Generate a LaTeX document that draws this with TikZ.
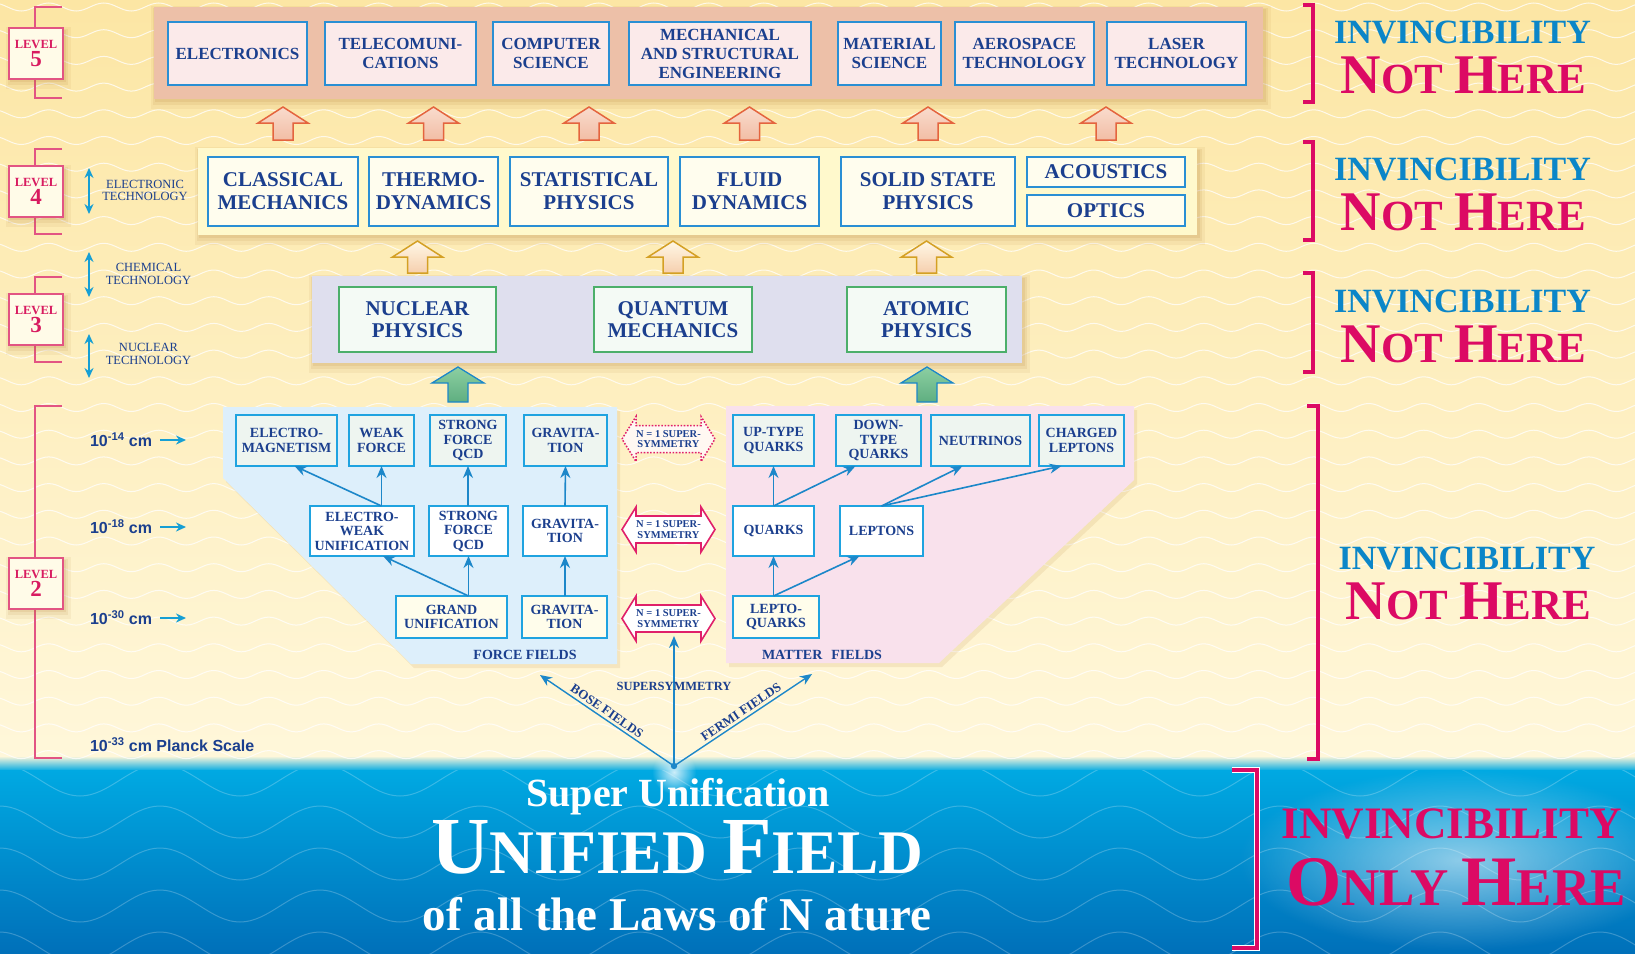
\documentclass[tikz,border=0pt]{standalone}
\usepackage{fontspec}
\setmainfont{Liberation Serif}
\newfontfamily\sansf{Liberation Sans}
\usetikzlibrary{arrows.meta,calc,fadings}
\tikzfading[name=softglow, inner color=transparent!0, outer color=transparent!100]
\definecolor{txtblue}{HTML}{1B3F8E}
\definecolor{boxline}{HTML}{2A8FD4}
\definecolor{cyanline}{HTML}{1FA3E0}
\definecolor{arrblue}{HTML}{1C87C9}
\definecolor{pinkr}{HTML}{DC0A64}
\definecolor{lvlpink}{HTML}{E25483}
\definecolor{lvltext}{HTML}{D81B60}
\definecolor{invblue}{HTML}{0B86C8}
\definecolor{bandA}{HTML}{EDC0A8}
\definecolor{bandB}{HTML}{FFF9CC}
\definecolor{bandC}{HTML}{DFDFEE}
\definecolor{forcep}{HTML}{DDEFFB}
\definecolor{matterp}{HTML}{F9E1EC}
\definecolor{bgtop}{HTML}{FCE6A4}
\definecolor{bgbot}{HTML}{FFF7DA}
\definecolor{seatop}{HTML}{00A9E2}
\definecolor{seabot}{HTML}{0070B9}
\definecolor{rowA}{HTML}{EEF5F0}
\definecolor{rowC}{HTML}{FFFDEB}
\definecolor{lvlfill}{HTML}{FFFBE8}
\definecolor{fivefill}{HTML}{FBEAEA}
\definecolor{fourfill}{HTML}{FFFDEE}
\definecolor{threefill}{HTML}{F4FAF5}
\definecolor{threeline}{HTML}{4CAF6A}
\definecolor{shadowc}{HTML}{B0782E}
\definecolor{salmline}{HTML}{E4643E}
\definecolor{goldline}{HTML}{D4A024}
\definecolor{ssline}{HTML}{E0206A}
\definecolor{salmtop}{HTML}{F9DCCD}\definecolor{salmbot}{HTML}{F2BDA5}
\definecolor{goldtop}{HTML}{FFF8E6}\definecolor{goldbot}{HTML}{F6CFAE}
\definecolor{grntop}{HTML}{8CCFA2}\definecolor{grnbot}{HTML}{5FAE80}
\definecolor{ssfill}{HTML}{FFF8F2}

\newcommand\blockup[7]{\draw[#7] (#1,#2) -- ({#1+#5},#3) -- ({#1+#6},#3) -- ({#1+#6},#4) -- ({#1-#6},#4) -- ({#1-#6},#3) -- ({#1-#5},#3) -- cycle;}
\newcommand\softshade[4]{%
  \fill[shadowc,opacity=0.08] ({#1-3},{#2-1}) rectangle ({#3+8},{#4+10});
  \fill[shadowc,opacity=0.10] ({#1-1},{#2+1}) rectangle ({#3+5},{#4+6});
  \fill[shadowc,opacity=0.12] ({#1+1},{#2+2}) rectangle ({#3+3},{#4+3});}
\newcommand\ssarrow[4]{%
  \draw[#4] ({#2-46.5},#3) -- ({#2-32.5},{#3-22.5}) -- ({#2-32.5},{#3-13.5}) -- ({#2+32.5},{#3-13.5}) -- ({#2+32.5},{#3-22.5}) -- ({#2+46.5},#3) -- ({#2+32.5},{#3+22.5}) -- ({#2+32.5},{#3+13.5}) -- ({#2-32.5},{#3+13.5}) -- ({#2-32.5},{#3+22.5}) -- cycle;
  \node[sstext, minimum width=93, minimum height=45] (#1) at (#2,#3) {N = 1 SUPER-\\SYMMETRY};}
\newcommand\nothere{\fontsize{56}{56}\selectfont N\fontsize{43}{43}\selectfont OT \fontsize{56}{56}\selectfont H\fontsize{43}{43}\selectfont ERE}

\begin{document}
\begin{tikzpicture}[x=1pt,y=-1pt,
  every node/.style={inner sep=0pt, outer sep=0pt},
  tb5/.style={draw=boxline, line width=1.5pt, fill=fivefill, text=txtblue, align=center, font=\bfseries\fontsize{17}{19}\selectfont},
  tb4/.style={draw=boxline, line width=1.5pt, fill=fourfill, text=txtblue, align=center, font=\bfseries\fontsize{21}{23}\selectfont},
  tb3/.style={draw=threeline, line width=1.5pt, fill=threefill, text=txtblue, align=center, font=\bfseries\fontsize{21}{22}\selectfont},
  fb/.style={draw=cyanline, line width=1.5pt, text=txtblue, align=center, font=\bfseries\fontsize{14}{14.5}\selectfont},
  rowa/.style={fb, fill=rowA},
  rowb/.style={fb, fill=white},
  rowc/.style={fb, fill=rowC},
  lvl/.style={draw=lvlpink, line width=2pt, fill=lvlfill, text=lvltext, align=center, minimum width=54, minimum height=51, font=\bfseries},
  bracketL/.style={draw=lvlpink, line width=2pt},
  bracketR/.style={draw=pinkr, line width=4pt},
  arr/.style={draw=arrblue, line width=1.6pt, -{Stealth[length=12pt, width=10pt]}},
  sarr/.style={draw=arrblue!80!cyan, line width=1.6pt, -{Stealth[length=10pt, width=9pt]}},
  dbl/.style={draw=arrblue!80!cyan, line width=1.6pt, {Stealth[length=10pt,width=9pt]}-{Stealth[length=10pt,width=9pt]}},
  tech/.style={text=txtblue, align=center, font=\fontsize{12.5}{12.5}\selectfont},
  scl/.style={text=txtblue, anchor=west, font=\sansf\bfseries\fontsize{16}{16}\selectfont},
  inv/.style={text=invblue, anchor=base, font=\bfseries\fontsize{34}{34}\selectfont},
  noth/.style={text=pinkr, anchor=base, font=\bfseries},
  lbl/.style={text=txtblue, font=\bfseries\fontsize{13}{13}\selectfont},
  sstext/.style={text=txtblue, align=center, font=\bfseries\fontsize{10.5}{10.5}\selectfont},
  wave/.style={draw=white, line width=1pt, opacity=0.75},
  seawave/.style={draw=white, line width=1pt, opacity=0.22},
  salm/.style={draw=salmline, line width=1.5pt, top color=salmtop, bottom color=salmbot},
  gold/.style={draw=goldline, line width=1.5pt, top color=goldtop, bottom color=goldbot},
  grn/.style={draw=arrblue, line width=1.3pt, top color=grntop, bottom color=grnbot},
]
\useasboundingbox (0,0) rectangle (1635,953);

% background
\shade[top color=bgtop, bottom color=bgbot] (0,0) rectangle (1635,757);
\shade[top color=bgbot, bottom color=seatop] (0,756) rectangle (1635,771);
\shade[top color=seatop, bottom color=seabot] (0,770) rectangle (1635,953);
\begin{scope}
\clip (0,0) rectangle (1635,760);
\foreach \yy in {7,33.7,...,770} { \draw[wave] (-20,\yy) \foreach \k in {0,...,30} { sin ++(13.75,-4) cos ++(13.75,4) sin ++(13.75,4) cos ++(13.75,-4) }; }
\end{scope}
\begin{scope}
\clip (0,770) rectangle (1635,953);
\foreach \yy in {780,822,...,980} { \draw[seawave] (-40,\yy) \foreach \k in {0,...,11} { sin ++(40,-16) cos ++(40,16) sin ++(40,16) cos ++(40,-16) }; }
\end{scope}
\fill[white, opacity=0.8, path fading=softglow] (674,772) circle (22pt);

% left level brackets
\draw[bracketL] (62,7) -- (35,7) -- (35,98) -- (62,98);
\draw[bracketL] (62,149) -- (35,149) -- (35,234) -- (62,234);
\draw[bracketL] (62,277) -- (35,277) -- (35,362) -- (62,362);
\draw[bracketL] (62,406) -- (35,406) -- (35,758) -- (62,758);
\softshade{9}{28}{63}{79}
\softshade{9}{166}{63}{217}
\softshade{9}{294}{63}{345}
\softshade{9}{558}{63}{609}
\node[lvl] (lv5) at (36,53.5) {\fontsize{12.5}{13}\selectfont LEVEL\\[1pt]\fontsize{23}{22}\selectfont 5};
\node[lvl] (lv4) at (36,191.5) {\fontsize{12.5}{13}\selectfont LEVEL\\[1pt]\fontsize{23}{22}\selectfont 4};
\node[lvl] (lv3) at (36,319.5) {\fontsize{12.5}{13}\selectfont LEVEL\\[1pt]\fontsize{23}{22}\selectfont 3};
\node[lvl] (lv2) at (36,583.5) {\fontsize{12.5}{13}\selectfont LEVEL\\[1pt]\fontsize{23}{22}\selectfont 2};

% technology labels
\coordinate (ea) at (89,168); \coordinate (eb) at (89,214);
\coordinate (ca) at (89,252); \coordinate (cb) at (89,297);
\coordinate (na) at (89,334); \coordinate (nb) at (89,378);
\draw[dbl] (ea) -- (eb);
\draw[dbl] (ca) -- (cb);
\draw[dbl] (na) -- (nb);
\node[tech] (elt) at (145,190.5) {ELECTRONIC\\TECHNOLOGY};
\node[tech] (cht) at (148.5,274) {CHEMICAL\\TECHNOLOGY};
\node[tech] (nut) at (148.5,354) {NUCLEAR\\TECHNOLOGY};

% scale labels
\node[scl] (s14) at (90,440) {10\textsuperscript{-14} cm};
\node[scl] (s18) at (90,527) {10\textsuperscript{-18} cm};
\node[scl] (s30) at (90,618) {10\textsuperscript{-30} cm};
\node[scl] (s33) at (90,745) {10\textsuperscript{-33} cm Planck Scale};
\coordinate (t14) at (186,440); \coordinate (t18) at (186,527); \coordinate (t30) at (186,618);
\draw[sarr] ([xshift=8]s14.east) -- (t14);
\draw[sarr] ([xshift=8]s18.east) -- (t18);
\draw[sarr] ([xshift=8]s30.east) -- (t30);

% level 5 band
\softshade{154}{7}{1263}{99}
\fill[bandA] (154,7) rectangle (1263,99);
\node[tb5, minimum width=139, minimum height=63] (elec) at (237.5,53.5) {ELECTRONICS};
\node[tb5, minimum width=151, minimum height=63] (tele) at (400.5,53.5) {TELECOMUNI-\\CATIONS};
\node[tb5, minimum width=116, minimum height=63] (comp) at (551,53.5) {COMPUTER\\SCIENCE};
\node[tb5, minimum width=182, minimum height=63] (mech) at (720,53.5) {MECHANICAL\\AND STRUCTURAL\\ENGINEERING};
\node[tb5, minimum width=103, minimum height=63] (matl) at (889.5,53.5) {MATERIAL\\SCIENCE};
\node[tb5, minimum width=139, minimum height=63] (aero) at (1024.5,53.5) {AEROSPACE\\TECHNOLOGY};
\node[tb5, minimum width=139, minimum height=63] (lasr) at (1176.5,53.5) {LASER\\TECHNOLOGY};

% arrows 4 -> 5
\foreach \cx in {283,433.5,589,749.5,928,1106} { \blockup{\cx}{107}{123}{140}{25}{10}{salm} }

% level 4 band
\softshade{198}{148}{1197}{235}
\fill[bandB] (198,148) rectangle (1197,235);
\node[tb4, minimum width=150, minimum height=69] (clm) at (283,191.5) {CLASSICAL\\MECHANICS};
\node[tb4, minimum width=129, minimum height=69] (thd) at (433.5,191.5) {THERMO-\\DYNAMICS};
\node[tb4, minimum width=158, minimum height=69] (stp) at (589,191.5) {STATISTICAL\\PHYSICS};
\node[tb4, minimum width=139, minimum height=69] (fld) at (749.5,191.5) {FLUID\\DYNAMICS};
\node[tb4, minimum width=174, minimum height=69] (ssp) at (928,191.5) {SOLID STATE\\PHYSICS};
\node[tb4, minimum width=158, minimum height=30] (aco) at (1106,172) {ACOUSTICS};
\node[tb4, minimum width=158, minimum height=31] (opt) at (1106,210.5) {OPTICS};

% arrows 3 -> 4
\foreach \cx in {417.5,673,926.5} { \blockup{\cx}{241}{257}{273}{25}{10}{gold} }

% level 3 band
\softshade{312}{276}{1022}{363}
\fill[bandC] (312,276) rectangle (1022,363);
\node[tb3, minimum width=157, minimum height=65] (nph) at (417.5,319.5) {NUCLEAR\\PHYSICS};
\node[tb3, minimum width=158, minimum height=65] (qme) at (673,319.5) {QUANTUM\\MECHANICS};
\node[tb3, minimum width=159, minimum height=65] (aph) at (926.5,319.5) {ATOMIC\\PHYSICS};

% arrows 2 -> 3
\blockup{458}{367}{383}{402}{26}{10}{grn}
\blockup{927}{367}{383}{402}{26}{10}{grn}

% level 2 panels
\fill[shadowc, opacity=0.12, shift={(3,4)}] (223,407) -- (617,407) -- (617,664) -- (411,664) -- (223,478) -- cycle;
\fill[forcep] (223,407) -- (617,407) -- (617,664) -- (411,664) -- (223,478) -- cycle;
\fill[shadowc, opacity=0.12, shift={(3,4)}] (726,406) -- (1134,406) -- (1134,480) -- (939,663) -- (726,663) -- cycle;
\fill[matterp] (726,406) -- (1134,406) -- (1134,480) -- (939,663) -- (726,663) -- cycle;

% force boxes
\node[rowa, minimum width=101, minimum height=51] (em) at (286.5,440.5) {ELECTRO-\\MAGNETISM};
\node[rowa, minimum width=65, minimum height=51] (wf) at (381.5,440.5) {WEAK\\FORCE};
\node[rowa, minimum width=76, minimum height=51] (sf1) at (468,440.5) {STRONG\\FORCE\\QCD};
\node[rowa, minimum width=83, minimum height=51] (gr1) at (565.5,440.5) {GRAVITA-\\TION};
\node[rowb, minimum width=104, minimum height=50] (ew) at (362,531) {ELECTRO-\\WEAK\\UNIFICATION};
\node[rowb, minimum width=79, minimum height=50] (sf2) at (468.5,531) {STRONG\\FORCE\\QCD};
\node[rowb, minimum width=84, minimum height=50] (gr2) at (565,531) {GRAVITA-\\TION};
\node[rowc, minimum width=111, minimum height=42] (gu) at (451.5,617) {GRAND\\UNIFICATION};
\node[rowc, minimum width=85, minimum height=42] (gr3) at (564.5,617) {GRAVITA-\\TION};
\node[lbl, font=\bfseries\fontsize{14}{14}\selectfont] (ffl) at (525,655) {FORCE FIELDS};

\draw[arr] (wf.south |- ew.north) -- (wf.south);
\draw[arr] (wf.south |- ew.north) -- ([xshift=8]em.south);
\draw[arr] (sf1.south |- sf2.north) -- (sf1.south);
\draw[arr] (gr2.north) -- (gr1.south);
\draw[arr] (sf2.south |- gu.north) -- (sf2.south);
\draw[arr] (sf2.south |- gu.north) -- ([xshift=21]ew.south);
\draw[arr] (gr2.south |- gr3.north) -- (gr2.south);

% matter boxes
\node[rowa, minimum width=81, minimum height=51] (up) at (773.5,440.5) {UP-TYPE\\QUARKS};
\node[rowa, minimum width=85, minimum height=51] (dn) at (878.5,440.5) {DOWN-\\TYPE\\QUARKS};
\node[rowa, minimum width=99, minimum height=51] (nu) at (980.5,440.5) {NEUTRINOS};
\node[rowa, minimum width=85, minimum height=51] (cl) at (1081.5,440.5) {CHARGED\\LEPTONS};
\node[rowb, minimum width=81, minimum height=50] (q) at (773.5,531) {QUARKS};
\node[rowb, minimum width=83, minimum height=50] (l) at (881.5,531) {LEPTONS};
\node[rowc, minimum width=86, minimum height=42] (lq) at (776,617) {LEPTO-\\QUARKS};
\node[lbl, font=\bfseries\fontsize{14}{14}\selectfont] (mfl) at (822,655) {MATTER\hspace{9pt}FIELDS};

\draw[arr] (q.north) -- (up.south);
\draw[arr] (q.north) -- ([xshift=-23]dn.south);
\draw[arr] (l.north) -- ([xshift=-18]nu.south);
\draw[arr] (l.north) -- ([xshift=-20]cl.south);
\draw[arr] (q.south |- lq.north) -- (q.south);
\draw[arr] (q.south |- lq.north) -- ([xshift=-22]l.south);

% supersymmetry double arrows
\ssarrow{ss1}{668.5}{439}{draw=ssline, line width=1.5pt, dash pattern=on 1.6pt off 1.6pt, fill=ssfill}
\ssarrow{ss2}{668.5}{529.5}{draw=ssline, line width=1.6pt, fill=white}
\ssarrow{ss3}{668.5}{618.5}{draw=ssline, line width=1.6pt, fill=white}

% origin arrows
\coordinate (o) at (674,766);
\coordinate (boseend) at (540,675);
\coordinate (fermiend) at (812,674);
\draw[arr, line width=1.4pt] (o) -- (boseend);
\draw[arr, line width=1.4pt] (o) -- (fermiend);
\draw[arr, line width=1.4pt] (o) -- ([yshift=5pt]o |- ss3.south);
\fill[arrblue] (o) circle (3.2pt);
\node[lbl, font=\bfseries\fontsize{12.5}{12.5}\selectfont] (susy) at (674,686) {SUPERSYMMETRY};
\node[lbl, rotate=-34.5] (bose) at (607,711) {BOSE FIELDS};
\node[lbl, rotate=34] (fermi) at (741,712) {FERMI FIELDS};

% right brackets
\draw[bracketR] (1303,5) -- (1313,5) -- (1313,102) -- (1303,102);
\draw[bracketR] (1303,142) -- (1313,142) -- (1313,240) -- (1303,240);
\draw[bracketR] (1303,273) -- (1313,273) -- (1313,372) -- (1303,372);
\draw[bracketR] (1307,406) -- (1318,406) -- (1318,759) -- (1307,759);
\node[inv] (inv1) at (1462.5,43) {INVINCIBILITY};
\node[noth] (nh1) at (1463.5,93) {\nothere};
\node[inv] (inv2) at (1462.5,180) {INVINCIBILITY};
\node[noth] (nh2) at (1463.5,230) {\nothere};
\node[inv] (inv3) at (1462.5,312) {INVINCIBILITY};
\node[noth] (nh3) at (1463.5,362) {\nothere};
\node[inv] (inv4) at (1467,569) {INVINCIBILITY};
\node[noth] (nh4) at (1468.5,619) {\nothere};

% bottom
\fill[white, opacity=0.55, path fading=softglow] (1240,770) rectangle (1680,950);
\draw[white, line width=6pt] (1232,770) -- (1257,770) -- (1257,948) -- (1232,948);
\draw[pinkr, line width=3.5pt] (1232,770) -- (1257,770) -- (1257,948) -- (1232,948);
\node[text=pinkr, anchor=base, font=\bfseries\fontsize{45}{45}\selectfont] (inv5) at (1452,838) {INVINCIBILITY};
\node[text=pinkr, anchor=base] (oh) at (1456,905) {\bfseries\fontsize{71}{71}\selectfont O\fontsize{53}{53}\selectfont NLY \fontsize{71}{71}\selectfont H\fontsize{53}{53}\selectfont ERE};

\node[text=white, anchor=base, font=\bfseries\fontsize{40}{40}\selectfont] (su) at (678,806) {Super Unification};
\node[text=white, anchor=base] (uf) at (677.5,873) {\bfseries\fontsize{81}{81}\selectfont U\fontsize{62}{62}\selectfont NIFIED \fontsize{81}{81}\selectfont F\fontsize{62}{62}\selectfont IELD};
\node[text=white, anchor=base, font=\bfseries\fontsize{47}{47}\selectfont] (ol) at (677,930) {of all the Laws of N ature};
\end{tikzpicture}
\end{document}
